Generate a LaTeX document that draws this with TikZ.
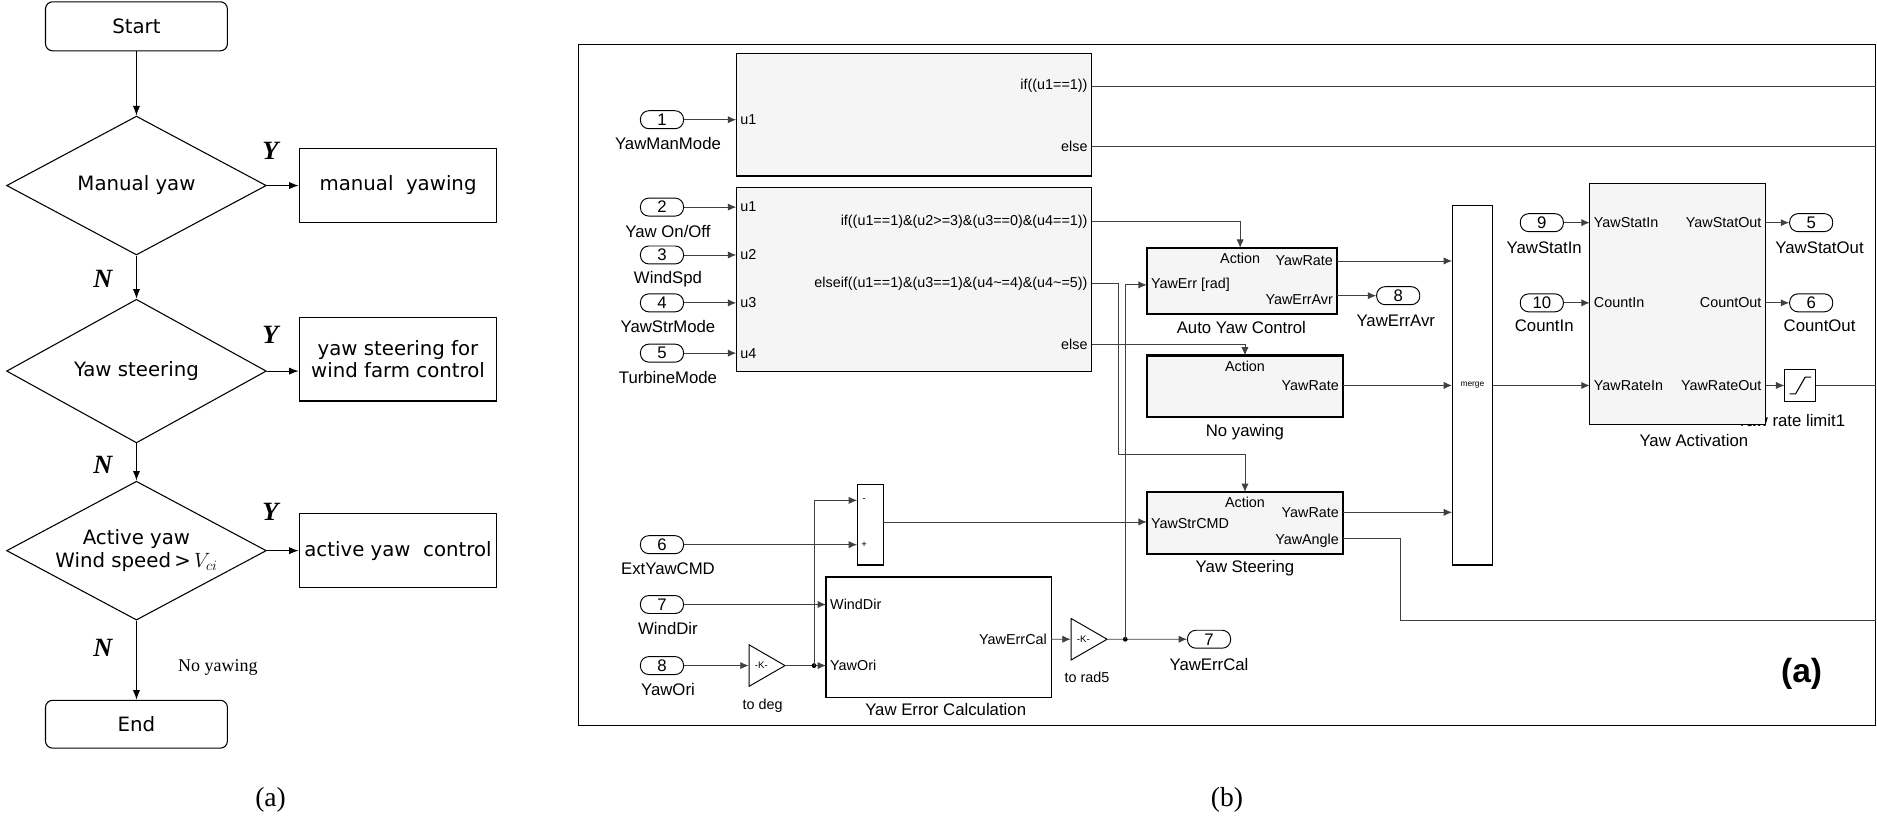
\documentclass[tikz,border=0pt]{standalone}
\usepackage{fontspec}
\setmainfont{Liberation Serif}
\setsansfont{Liberation Sans}
\newfontfamily\flowfont{DejaVu Sans}
\usetikzlibrary{shapes.geometric,arrows.meta,calc}
\begin{document}
\begin{tikzpicture}[x=1pt,y=-1pt,
  fl/.style={draw,line width=0.9pt,font=\flowfont\fontsize{16.5}{19}\selectfont,align=center},
  yn/.style={font=\bfseries\itshape\fontsize{22}{22}\selectfont},
  farr/.style={-{Latex[length=8pt,width=6pt]},line width=0.9pt},
  blk/.style={draw,fill=gray!8,line width=0.9pt},
  sblk/.style={draw,fill=gray!8,line width=1.8pt},
  port/.style={draw,rounded corners=7pt,minimum width=36pt,minimum height=15pt,inner sep=0pt,font=\sffamily\fontsize{14}{14}\selectfont,line width=0.8pt},
  lab/.style={font=\sffamily\fontsize{14}{14}\selectfont},
  tin/.style={font=\sffamily\fontsize{12}{12}\selectfont},
  sarr/.style={-{Latex[length=7pt,width=6pt]},line width=0.7pt,draw=black!75},
  sl/.style={line width=0.7pt,draw=black!75}]
\useasboundingbox (0,0) rectangle (1568,687);
% ---------- flowchart ----------
\node[fl,rounded corners=6pt,minimum width=152pt,minimum height=41pt] (start) at (114,22) {Start};
\node[fl,diamond,aspect=1.87,minimum width=217pt,minimum height=116pt,inner sep=0pt] (d1) at (114,155) {Manual yaw};
\node[fl,diamond,aspect=1.87,minimum width=217pt,minimum height=120pt,inner sep=0pt] (d2) at (114,310) {Yaw steering};
\node[fl,diamond,aspect=1.87,minimum width=217pt,minimum height=116pt,inner sep=0pt] (d3) at (114,460) {Active yaw\\Wind speed\,>\,$V_{ci}$};
\node[fl,rounded corners=6pt,minimum width=152pt,minimum height=40pt] (end) at (114,605) {End};
\node[fl,minimum width=165pt,minimum height=62pt] (b1) at (332.5,155) {manual\ \ yawing};
\node[fl,minimum width=165pt,minimum height=70pt] (b2) at (332.5,300) {yaw steering for\\wind farm control};
\node[fl,minimum width=165pt,minimum height=62pt] (b3) at (332.5,460) {active yaw\ \ control};
\draw[farr] (start) -- (d1);
\draw[farr] (d1) -- (d2);
\draw[farr] (d2) -- (d3);
\draw[farr] (d3) -- (end);
\draw[farr] (d1.east) -- (d1.east -| b1.west);
\draw[farr] (d2.east) -- (d2.east -| b2.west);
\draw[farr] (d3.east) -- (d3.east -| b3.west);
\node[yn] (y1) at (226,126) {Y};
\node[yn] (y2) at (226,280) {Y};
\node[yn] (y3) at (226,428) {Y};
\node[yn] (n1) at (86,233) {N};
\node[yn] (n2) at (86,388) {N};
\node[yn] (n3) at (86,541) {N};
\node[font=\fontsize{15}{15}\selectfont] (noy) at (182,558) {No yawing};
\node[font=\fontsize{23}{23}\selectfont] (capa) at (226,668) {(a)};
\node[font=\fontsize{23}{23}\selectfont] (capb) at (1025,668) {(b)};
% ---------- Simulink ----------
\draw[line width=0.9pt] (483,37) rectangle (1567,606);
\coordinate (rE1) at (1567,72);
\coordinate (rE2) at (1567,122);
\coordinate (rE3) at (1567,518);
\coordinate (rE4) at (1567,322);
% if blocks
\draw[blk] (615,45) rectangle (912,147);
\node[tin,anchor=west] (if1u1) at (615,100) {u1};
\node[tin,anchor=east] (if1a) at (912,72) {if((u1==1))};
\node[tin,anchor=east] (if1b) at (912,122) {else};
\draw[sl] (912,72) -- (rE1);
\draw[sl] (912,122) -- (rE2);
\draw[blk] (615,157) rectangle (912,310);
\foreach \i/\y in {1/173,2/213,3/253,4/295}{\node[tin,anchor=west] (if2u\i) at (615,\y) {u\i};}
\node[tin,anchor=east] (if2a) at (912,185) {if((u1==1)\&(u2>=3)\&(u3==0)\&(u4==1))};
\node[tin,anchor=east] (if2b) at (912,237) {elseif((u1==1)\&(u3==1)\&(u4\textasciitilde=4)\&(u4\textasciitilde=5))};
\node[tin,anchor=east] (if2c) at (912,288) {else};
% inports
\foreach \n/\y/\t in {1/100/{YawManMode},2/173/{Yaw On/Off},3/213/{WindSpd},4/253/{YawStrMode},5/295/{TurbineMode},6/455/{ExtYawCMD},7/505/{WindDir},8/556/{YawOri}}{
  \node[port] (in\n) at (553,\y) {\n};
  \node[lab] (inl\n) at (558,\y+20) {\t};
}
\foreach \n/\y in {1/100,2/173,3/213,4/253,5/295}{\draw[sarr] (in\n) -- (615,\y);}
% subsystems
\draw[sblk] (958,207) rectangle (1117,262);
\node[tin,anchor=north] (ayA) at (1036,208) {Action};
\node[tin,anchor=east] (ayR) at (1117,218) {YawRate};
\node[tin,anchor=west] (ayE) at (958,238) {YawErr [rad]};
\node[tin,anchor=east] (ayV) at (1117,250) {YawErrAvr};
\node[lab] (ayL) at (1037,274) {Auto Yaw Control};
\draw[sblk] (958,297) rectangle (1122,348);
\node[tin,anchor=north] (nyA) at (1040,298) {Action};
\node[tin,anchor=east] (nyR) at (1122,322) {YawRate};
\node[lab] (nyL) at (1040,361) {No yawing};
\draw[sblk] (958,411) rectangle (1122,463);
\node[tin,anchor=north] (ysA) at (1040,412) {Action};
\node[tin,anchor=east] (ysR) at (1122,428) {YawRate};
\node[tin,anchor=west] (ysC) at (958,437) {YawStrCMD};
\node[tin,anchor=east] (ysG) at (1122,452) {YawAngle};
\node[lab] (ysL) at (1040,475) {Yaw Steering};
\draw[sarr] (912,185) -| (1036,207);
\draw[sarr] (912,237) -- (934,237) |- (1040,380) -- (1040,411);
\draw[sarr] (912,288) -| (1040,297);
% merge
\draw[blk,fill=white] (1213,172) rectangle (1247,472);
\node[font=\sffamily\fontsize{7}{7}\selectfont] (mg) at (1230,322) {merge};
\draw[sarr] (1117,218) -- (1213,218);
\draw[sarr] (1122,322) -- (1213,322);
\draw[sarr] (1122,428) -- (1213,428);
\draw[sl] (1122,450) -- (1170,450) |- (rE3);
\node[port] (out8) at (1168,247) {8};
\node[lab] (outl8) at (1166,268) {YawErrAvr};
\draw[sarr] (1117,247) -- (out8);
% yaw activation
\node[lab] (rll) at (1496,351) {Yaw rate limit1};
\draw[blk] (1328,153) rectangle (1475,355);
\node[tin,anchor=west] (vaI1) at (1328,186) {YawStatIn};
\node[tin,anchor=west] (vaI2) at (1328,253) {CountIn};
\node[tin,anchor=west] (vaI3) at (1328,322) {YawRateIn};
\node[tin,anchor=east] (vaO1) at (1475,186) {YawStatOut};
\node[tin,anchor=east] (vaO2) at (1475,253) {CountOut};
\node[tin,anchor=east] (vaO3) at (1475,322) {YawRateOut};
\node[lab] (vaL) at (1415,368) {Yaw Activation};
\node[port] (in9) at (1288,186) {9};
\node[lab] (inl9) at (1290,207) {YawStatIn};
\node[port] (in10) at (1288,253) {10};
\node[lab] (inl10) at (1290,272) {CountIn};
\draw[sarr] (in9) -- (1328,186);
\draw[sarr] (in10) -- (1328,253);
\draw[sarr] (1247,322) -- (1328,322);
\node[port] (out5) at (1513,186) {5};
\node[lab] (outl5) at (1520,207) {YawStatOut};
\node[port] (out6) at (1513,253) {6};
\node[lab] (outl6) at (1520,272) {CountOut};
\draw[sarr] (1475,186) -- (out5);
\draw[sarr] (1475,253) -- (out6);
\node[draw,fill=white,line width=0.8pt,minimum size=26pt,inner sep=0pt] (rl) at (1504,322) {};
\draw[line width=0.9pt] ($(rl.center)+(-9,7)$) -- ($(rl.center)+(-4,7)$) -- ($(rl.center)+(4,-7)$) -- ($(rl.center)+(9,-7)$);
\draw[sarr] (1475,322) -- (rl);
\draw[sl] (rl) -- (rE4);
% sum
\draw[blk,fill=white] (716,405) rectangle (738,472);
\node[font=\sffamily\fontsize{8}{8}\selectfont] (sm) at (722,418) {-};
\node[font=\sffamily\fontsize{8}{8}\selectfont] (sp) at (722,455) {+};
\draw[sarr] (in6) -- (716,455);
\draw[sarr] (738,436) -- (958,436);
% yaw error calc
\draw[blk,fill=white] (690,482) rectangle (878,583);
\node[tin,anchor=west] (ecW) at (690,505) {WindDir};
\node[tin,anchor=west] (ecO) at (690,556) {YawOri};
\node[tin,anchor=east] (ecE) at (878,534) {YawErrCal};
\node[lab] (ecL) at (790,593) {Yaw Error Calculation};
\draw[sarr] (in7) -- (690,505);
% gains
\node[draw,isosceles triangle,isosceles triangle apex angle=60,minimum height=30pt,inner sep=0pt,fill=white,line width=0.8pt,font=\sffamily\fontsize{8}{8}\selectfont] (g1) at (636,556) {-K-};
\node[font=\sffamily\fontsize{12}{12}\selectfont] (g1l) at (637,590) {to deg};
\node[draw,isosceles triangle,isosceles triangle apex angle=60,minimum height=30pt,inner sep=0pt,fill=white,line width=0.8pt,font=\sffamily\fontsize{8}{8}\selectfont] (g2) at (905,534) {-K-};
\node[font=\sffamily\fontsize{12}{12}\selectfont] (g2l) at (908,566) {to rad5};
\draw[sarr] (in8) -- (g1);
\coordinate (j1) at (680,556);
\draw[sarr] (g1) -- (690,556);
\fill (j1) circle (2pt);
\draw[sarr] (j1) |- (716,418);
\draw[sarr] (878,534) -- (g2);
\node[port] (out7) at (1010,534) {7};
\node[lab] (outl7) at (1010,555) {YawErrCal};
\coordinate (j2) at (940,534);
\draw[sarr] (g2) -- (out7);
\fill (j2) circle (2pt);
\draw[sarr] (j2) |- (958,238);
\node[font=\sffamily\bfseries\fontsize{28}{28}\selectfont] (pa) at (1505,563) {(a)};
\end{tikzpicture}
\end{document}
